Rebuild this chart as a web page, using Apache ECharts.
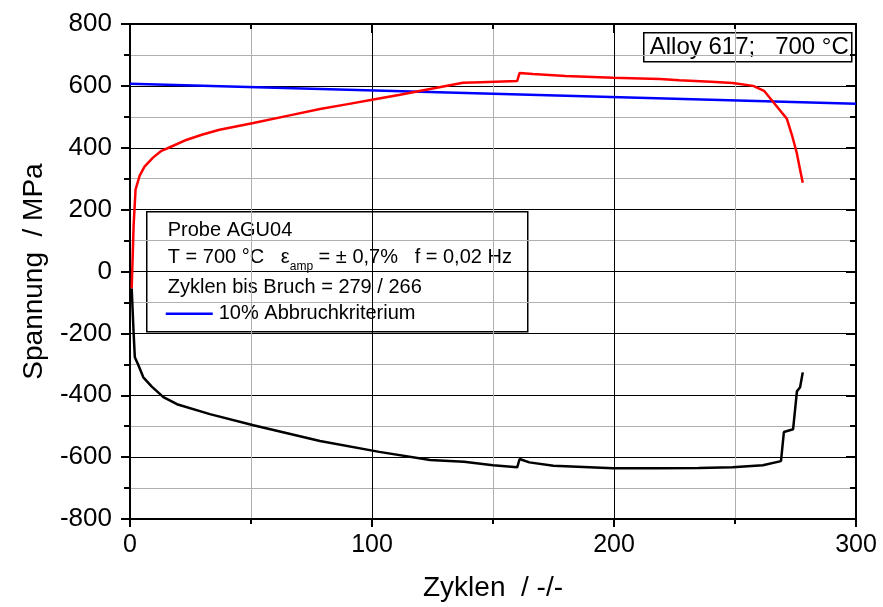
<!DOCTYPE html>
<html>
<head>
<meta charset="utf-8">
<script src="https://cdn.jsdelivr.net/npm/echarts@6/dist/echarts.min.js"></script>
<style>
  html, body { margin: 0; padding: 0; background: #fff; overflow: hidden; }
  #chart { width: 883px; height: 607px; }
</style>
</head>
<body>
<div id="chart"></div>
<script>
// Maximum stress per cycle (tension peak)
const maxCycles = [0.7, 1.5, 2.3, 4, 6, 9.5, 13, 16, 23.5, 30, 37, 51, 65, 78.5, 90, 100, 111.6, 124, 137.6, 145, 160, 161, 166.5, 180, 199.6, 219, 227, 240, 249, 257.5, 262, 265.8, 269.4, 271.4, 273.5, 275.5, 276.9, 278];
const maxStress = [-55, 150, 265, 310, 339, 368, 390, 400, 426, 443, 458, 480, 503, 525, 541, 555, 571, 590, 610, 612, 616, 642, 638, 632, 626, 622, 618, 613, 609, 600, 584, 548, 513, 494, 442, 384, 329, 287];

// Minimum stress per cycle (compression peak)
const minCycles = [0.7, 1.5, 2, 3.3, 5.5, 9, 13.8, 19.4, 33, 51, 78.5, 103, 124, 138, 150, 160, 161, 165, 175, 199.6, 217.8, 235, 249, 261.5, 269, 270.2, 274, 275.6, 276.9, 278];
const minStress = [-55, -200, -277, -300, -342, -372, -406, -429, -461, -497, -548, -583, -609, -615, -626, -633, -606, -617, -628, -636, -636, -635, -633, -626, -613, -519, -510, -387, -374, -326];

// 10 % drop criterion line
const critCycles = [0, 300];
const critStress = [607, 542];

const xTicks = [0, 100, 200, 300];
const yTicks = [-800, -600, -400, -200, 0, 200, 400, 600, 800];

const pairs = (xs, ys) => xs.map((x, i) => [x, ys[i]]);

const chart = echarts.init(document.getElementById('chart'), null, { renderer: 'canvas', width: 883, height: 607 });

const FONT = 'Liberation Sans, Arial, sans-serif';
const gridLeft = 130, gridTop = 24, gridRight = 27, gridBottom = 86;

chart.setOption({
  animation: false,
  backgroundColor: '#fff',
  grid: { left: gridLeft, right: gridRight, top: gridTop, bottom: gridBottom, containLabel: false },
  xAxis: [
    {
      type: 'value', position: 'bottom',
      min: xTicks[0], max: xTicks[xTicks.length - 1], interval: 100,
      name: 'Zyklen  / -/-', nameLocation: 'middle', nameGap: 55,
      nameTextStyle: { fontFamily: FONT, fontSize: 28, color: '#000' },
      axisLine: { show: true, onZero: false, lineStyle: { color: '#000', width: 2 } },
      axisTick: { show: true, inside: false, length: 8, lineStyle: { color: '#000', width: 2 } },
      minorTick: { show: true, splitNumber: 2, length: 5, lineStyle: { color: '#000', width: 2 } },
      axisLabel: { fontFamily: FONT, fontSize: 25, color: '#000', margin: 14 },
      splitLine: { show: true, lineStyle: { color: '#000', width: 1 } },
      minorSplitLine: { show: true, lineStyle: { color: '#b0b0b0', width: 1 } }
    },
    {
      type: 'value', position: 'top',
      min: xTicks[0], max: xTicks[xTicks.length - 1], interval: 100,
      axisLine: { show: true, onZero: false, lineStyle: { color: '#000', width: 2 } },
      axisTick: { show: true, inside: true, length: 9, lineStyle: { color: '#000', width: 2 } },
      minorTick: { show: true, splitNumber: 2, length: 5, lineStyle: { color: '#000', width: 2 } },
      axisLabel: { show: false },
      splitLine: { show: false }
    }
  ],
  yAxis: [
    {
      type: 'value', position: 'left',
      min: yTicks[0], max: yTicks[yTicks.length - 1], interval: 200,
      name: 'Spannung  / MPa', nameLocation: 'middle', nameGap: 82,
      nameTextStyle: { fontFamily: FONT, fontSize: 28, color: '#000' },
      axisLine: { show: true, onZero: false, lineStyle: { color: '#000', width: 2 } },
      axisTick: { show: true, inside: false, length: 9, lineStyle: { color: '#000', width: 2 } },
      minorTick: { show: true, splitNumber: 2, length: 6, lineStyle: { color: '#000', width: 2 } },
      axisLabel: { fontFamily: FONT, fontSize: 26, color: '#000', margin: 18 },
      splitLine: { show: true, lineStyle: { color: '#000', width: 1 } },
      minorSplitLine: { show: true, lineStyle: { color: '#b0b0b0', width: 1 } }
    },
    {
      type: 'value', position: 'right',
      min: yTicks[0], max: yTicks[yTicks.length - 1], interval: 200,
      axisLine: { show: true, onZero: false, lineStyle: { color: '#000', width: 2 } },
      axisTick: { show: true, inside: true, length: 10, lineStyle: { color: '#000', width: 2 } },
      minorTick: { show: true, splitNumber: 2, length: 6, lineStyle: { color: '#000', width: 2 } },
      axisLabel: { show: false },
      splitLine: { show: false }
    }
  ],
  series: [
    {
      name: '10% Abbruchkriterium', type: 'line', xAxisIndex: 0, yAxisIndex: 0,
      data: pairs(critCycles, critStress), showSymbol: false, symbol: 'none',
      lineStyle: { color: '#0000ff', width: 2.5 }, z: 3
    },
    {
      name: 'Max', type: 'line', xAxisIndex: 0, yAxisIndex: 0,
      data: pairs(maxCycles, maxStress), showSymbol: false, symbol: 'none',
      lineStyle: { color: '#ff0000', width: 2.5 }, z: 4
    },
    {
      name: 'Min', type: 'line', xAxisIndex: 0, yAxisIndex: 0,
      data: pairs(minCycles, minStress), showSymbol: false, symbol: 'none',
      lineStyle: { color: '#000000', width: 2.5 }, z: 4
    }
  ],
  graphic: [
    // info box with test conditions
    {
      type: 'group', left: 146, top: 211, z: 100,
      children: [
        { type: 'rect', shape: { x: 0, y: 0, width: 381, height: 120 },
          style: { fill: '#fff', stroke: '#000', lineWidth: 1.5 } },
        { type: 'text', x: 21, y: 19, style: { text: 'Probe AGU04', font: '20px ' + FONT, fill: '#000', verticalAlign: 'middle' } },
        { type: 'text', x: 21, y: 47, style: {
            text: '{n|T = 700 °C   ε}{s|amp}{n| = ± 0,7%   f = 0,02 Hz}',
            verticalAlign: 'middle',
            rich: {
              n: { fontFamily: FONT, fontSize: 20, fill: '#000', color: '#000', lineHeight: 22, verticalAlign: 'top' },
              s: { fontFamily: FONT, fontSize: 12, fill: '#000', color: '#000', lineHeight: 22, verticalAlign: 'top', padding: [13, 0, 0, 0] }
            }
          } },
        { type: 'text', x: 21, y: 76, style: { text: 'Zyklen bis Bruch = 279 / 266', font: '20px ' + FONT, fill: '#000', verticalAlign: 'middle' } },
        { type: 'line', shape: { x1: 19, y1: 102, x2: 66, y2: 102 }, style: { stroke: '#0000ff', lineWidth: 2.5 } },
        { type: 'text', x: 72, y: 102, style: { text: '10% Abbruchkriterium', font: '20px ' + FONT, fill: '#000', verticalAlign: 'middle' } }
      ]
    },
    // material / temperature label
    {
      type: 'group', left: 643, top: 32, z: 100,
      children: [
        { type: 'rect', shape: { x: 0, y: 0, width: 208, height: 29 },
          style: { fill: '#fff', stroke: '#000', lineWidth: 1.5 } },
        { type: 'text', x: 6, y: 15, style: { text: 'Alloy 617;   700 °C', font: '24px ' + FONT, fill: '#000', verticalAlign: 'middle' } }
      ]
    }
  ]
});
</script>
</body>
</html>
